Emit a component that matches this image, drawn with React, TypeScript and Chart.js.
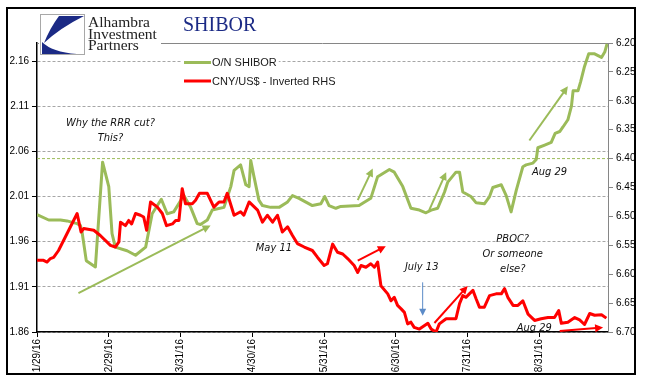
import React, { useEffect, useRef } from 'react';
import { Chart, registerables } from 'chart.js';

Chart.register(...registerables);

// ---------- data ----------
const xTickLabels = ['1/29/16', '2/29/16', '3/31/16', '4/30/16', '5/31/16', '6/30/16', '7/31/16', '8/31/16'];
const xTickStep = 22; // trading days between date labels
const xMax = 175;

const leftTicks = [1.86, 1.91, 1.96, 2.01, 2.06, 2.11, 2.16];
const leftMin = 1.86;
const leftMax = 2.18;

const rightTicks = [6.2, 6.25, 6.3, 6.35, 6.4, 6.45, 6.5, 6.55, 6.6, 6.65, 6.7];
const rightMin = 6.2;
const rightMax = 6.7;
const thresholdLevel = 6.4;

const shiborDay = [
  0, 3.6, 7.2, 9.2, 12.3, 13.3, 13.8, 15.1, 17.9, 20.1, 22.0, 23.0, 24.0, 27.6, 30.2, 33.3, 35.3, 38.1, 39.9, 41.9,
  45.0, 47.1, 49.1, 50.1, 52.2, 53.7, 57.3, 59.4, 60.4, 62.4, 64.0, 65.0, 65.5, 66.5, 68.0, 69.1, 71.6, 74.2, 76.8, 78.3,
  80.3, 84.4, 87.0, 88.2, 89.5, 91.6, 93.1, 98.7, 102.3, 104.4, 108.0, 109.5, 112.1, 114.6, 117.2, 119.2, 120.8, 122.8, 124.9, 125.9,
  128.4, 129.5, 130.5, 133.0, 134.6, 137.1, 138.7, 139.7, 142.3, 143.8, 145.3, 146.9, 148.9, 149.9, 152.0, 153.0, 153.5, 155.6, 157.6, 158.8,
  160.2, 161.2, 162.7, 163.8, 164.3, 165.8, 166.6, 167.8, 169.1, 170.9, 173.0, 174.0, 174.7,
];
const shiborValue = [
  1.990, 1.984, 1.984, 1.983, 1.980, 1.978, 1.971, 1.939, 1.932, 2.048, 2.021, 1.969, 1.954, 1.950, 1.945, 1.954, 1.991, 2.007, 1.991, 1.993,
  2.011, 1.998, 1.980, 1.979, 1.984, 1.995, 1.998, 2.021, 2.039, 2.045, 2.023, 2.021, 2.050, 2.032, 2.006, 2.000, 1.998, 1.998, 2.004, 2.011,
  2.008, 2.000, 2.002, 2.010, 2.000, 1.997, 1.999, 2.000, 2.008, 2.032, 2.040, 2.037, 2.021, 1.997, 1.995, 1.992, 1.995, 1.997, 2.015, 2.026,
  2.037, 2.037, 2.015, 2.010, 2.003, 2.002, 2.010, 2.020, 2.023, 2.011, 1.993, 2.017, 2.043, 2.045, 2.047, 2.051, 2.064, 2.067, 2.070, 2.080,
  2.082, 2.087, 2.095, 2.110, 2.127, 2.127, 2.137, 2.154, 2.168, 2.168, 2.164, 2.170, 2.179,
];

const cnyDay = [
  0, 2.0, 3.1, 4.1, 5.1, 6.6, 12.3, 13.5, 14.3, 17.4, 19.4, 22.5, 24.0, 25.1, 25.6, 27.1, 28.1, 29.0, 30.2, 31.7,
  32.7, 33.6, 34.8, 36.9, 38.4, 39.7, 41.5, 42.5, 43.5, 44.5, 45.5, 47.6, 48.6, 49.8, 52.2, 54.2, 55.8, 57.3, 58.3, 60.4,
  62.4, 63.4, 65.0, 67.6, 69.1, 70.6, 72.2, 73.7, 75.2, 76.8, 78.3, 79.8, 81.9, 84.4, 86.0, 88.0, 89.0, 90.6, 92.1, 93.7,
  95.2, 97.2, 98.3, 99.3, 100.8, 102.3, 103.4, 104.4, 105.4, 107.5, 108.5, 109.5, 110.5, 111.6, 112.6, 113.6, 114.6, 115.6, 117.2, 119.8,
  120.8, 122.3, 123.3, 125.4, 128.4, 129.5, 130.5, 131.5, 132.5, 133.6, 134.6, 135.6, 137.1, 138.7, 140.7, 142.3, 143.3, 144.3, 145.9, 147.4,
  148.9, 150.5, 152.5, 154.5, 156.6, 158.6, 159.9, 160.7, 162.7, 164.8, 166.3, 167.8, 169.4, 170.9, 173.0, 174.5,
];
const cnyValue = [
  6.576, 6.576, 6.579, 6.573, 6.571, 6.559, 6.495, 6.527, 6.521, 6.524, 6.533, 6.550, 6.553, 6.544, 6.510, 6.516, 6.507, 6.513, 6.495, 6.498,
  6.501, 6.524, 6.475, 6.484, 6.495, 6.516, 6.513, 6.507, 6.507, 6.452, 6.478, 6.478, 6.472, 6.460, 6.460, 6.484, 6.475, 6.475, 6.460, 6.498,
  6.492, 6.498, 6.475, 6.489, 6.510, 6.498, 6.510, 6.498, 6.527, 6.518, 6.533, 6.547, 6.553, 6.559, 6.571, 6.585, 6.582, 6.548, 6.562, 6.565,
  6.573, 6.585, 6.597, 6.585, 6.588, 6.582, 6.588, 6.579, 6.620, 6.634, 6.646, 6.640, 6.654, 6.660, 6.666, 6.686, 6.683, 6.692, 6.695, 6.685,
  6.695, 6.700, 6.686, 6.677, 6.677, 6.651, 6.637, 6.640, 6.634, 6.628, 6.643, 6.657, 6.657, 6.637, 6.634, 6.634, 6.625, 6.640, 6.654, 6.654,
  6.646, 6.669, 6.680, 6.677, 6.675, 6.675, 6.663, 6.685, 6.683, 6.675, 6.679, 6.687, 6.668, 6.671, 6.670, 6.676,
];

// annotations (in data space: trading-day index, left-axis value)
const noteTexts = ['Why the RRR cut?', 'This?', 'May 11', 'July 13', 'PBOC?', 'Or someone', 'else?', 'Aug 29', 'Aug 29'];
const noteDay = [22.5, 22.5, 72.6, 117.9, 145.8, 145.8, 145.8, 157.1, 152.4];
const noteValue = [2.091, 2.075, 1.953, 1.932, 1.963, 1.946, 1.930, 2.037, 1.864];

const arrowFrom = [[12.7, 1.903], [98.3, 2.006], [120.2, 1.995], [150.9, 2.072], [98.3, 1.939], [121.8, 1.870], [160.2, 1.861], [118.2, 1.915]];
const arrowTo = [[53.2, 1.978], [102.9, 2.041], [125.4, 2.037], [162.7, 2.132], [106.9, 1.955], [132.0, 1.911], [173.5, 1.865], [118.2, 1.878]];
const arrowKind = ['green', 'green', 'green', 'green', 'red', 'red', 'red', 'blue'];

const GREEN = '#9BBB59';
const RED = '#FF0000';
const BLUE = '#5B8BC8';
const NAVY = '#1B2A85';

const tickFont = { family: "'Liberation Sans', Arial, sans-serif", size: 10 };

function drawArrow(ctx: CanvasRenderingContext2D, x1: number, y1: number, x2: number, y2: number, color: string, w: number) {
  const ang = Math.atan2(y2 - y1, x2 - x1);
  const hl = w >= 2 ? 8 : 7;
  const hw = w >= 2 ? 4 : 3.5;
  ctx.save();
  ctx.strokeStyle = color;
  ctx.fillStyle = color;
  ctx.lineWidth = w;
  ctx.lineCap = 'butt';
  ctx.beginPath();
  ctx.moveTo(x1, y1);
  ctx.lineTo(x2 - Math.cos(ang) * (hl - 1), y2 - Math.sin(ang) * (hl - 1));
  ctx.stroke();
  ctx.beginPath();
  ctx.moveTo(x2, y2);
  ctx.lineTo(x2 - Math.cos(ang) * hl + Math.sin(ang) * hw, y2 - Math.sin(ang) * hl - Math.cos(ang) * hw);
  ctx.lineTo(x2 - Math.cos(ang) * hl - Math.sin(ang) * hw, y2 - Math.sin(ang) * hl + Math.cos(ang) * hw);
  ctx.closePath();
  ctx.fill();
  ctx.restore();
}

const decor = {
  id: 'decor',
  beforeDatasetsDraw(chart: any) {
    const { ctx, chartArea } = chart;
    ctx.save();
    ctx.strokeStyle = '#868686';
    ctx.lineWidth = 1;
    ctx.beginPath();
    ctx.moveTo(chartArea.left, Math.round(chartArea.top) + 0.5);
    ctx.lineTo(chartArea.right, Math.round(chartArea.top) + 0.5);
    ctx.stroke();
    ctx.restore();
  },
  afterDraw(chart: any) {
    const { ctx } = chart;
    const xs = chart.scales.x;
    const ys = chart.scales.y;
    ctx.save();

    // arrows
    arrowFrom.forEach((f, i) => {
      const t = arrowTo[i];
      const kind = arrowKind[i];
      const color = kind === 'green' ? GREEN : kind === 'red' ? RED : BLUE;
      drawArrow(
        ctx,
        xs.getPixelForValue(f[0]), ys.getPixelForValue(f[1]),
        xs.getPixelForValue(t[0]), ys.getPixelForValue(t[1]),
        color, kind === 'blue' ? 1 : 2,
      );
    });

    // notes
    ctx.fillStyle = '#111';
    ctx.font = "italic 11px 'DejaVu Sans Condensed', 'DejaVu Sans', sans-serif";
    ctx.textAlign = 'center';
    ctx.textBaseline = 'middle';
    noteTexts.forEach((t, i) => {
      ctx.fillText(t, xs.getPixelForValue(noteDay[i]), ys.getPixelForValue(noteValue[i]));
    });

    // logo block (white background)
    ctx.fillStyle = '#fff';
    ctx.fillRect(39, 12, 122, 44);
    ctx.strokeStyle = '#A8A8A8';
    ctx.lineWidth = 1;
    ctx.strokeRect(40.5, 14.5, 44, 40);
    ctx.fillStyle = NAVY;
    ctx.beginPath();
    ctx.moveTo(59, 16);
    ctx.lineTo(84, 16);
    ctx.quadraticCurveTo(60, 28, 44, 43);
    ctx.quadraticCurveTo(50, 28, 59, 16);
    ctx.closePath();
    ctx.fill();
    ctx.beginPath();
    ctx.moveTo(42, 42);
    ctx.quadraticCurveTo(52, 52, 77, 54);
    ctx.lineTo(42, 54);
    ctx.closePath();
    ctx.fill();
    ctx.fillStyle = '#222';
    ctx.font = "15.5px 'Liberation Serif', 'Times New Roman', serif";
    ctx.textAlign = 'left';
    ctx.textBaseline = 'alphabetic';
    ctx.fillText('Alhambra', 88, 27);
    ctx.fillText('Investment', 88, 38.5);
    ctx.fillText('Partners', 88, 50);

    // title
    ctx.fillStyle = NAVY;
    ctx.font = "20px 'Liberation Serif', 'Times New Roman', serif";
    ctx.fillText('SHIBOR', 183, 31);

    // legend
    const legendItems = [
      { label: 'O/N SHIBOR', color: GREEN, y: 62.5 },
      { label: 'CNY/US$ - Inverted RHS', color: RED, y: 81 },
    ];
    ctx.font = "11px 'Liberation Sans', Arial, sans-serif";
    legendItems.forEach((it) => {
      const w = ctx.measureText(it.label).width;
      ctx.fillStyle = '#fff';
      ctx.fillRect(182, it.y - 7, 32 + w, 14);
      ctx.strokeStyle = it.color;
      ctx.lineWidth = 3;
      ctx.beginPath();
      ctx.moveTo(184, it.y);
      ctx.lineTo(211, it.y);
      ctx.stroke();
      ctx.fillStyle = '#1a1a1a';
      ctx.textBaseline = 'middle';
      ctx.fillText(it.label, 212, it.y + 0.5);
    });

    // outer frame
    ctx.strokeStyle = '#000';
    ctx.lineWidth = 2;
    ctx.strokeRect(7, 8, 628, 366);
    ctx.restore();
  },
};

export default function App() {
  const ref = useRef<HTMLCanvasElement>(null);

  useEffect(() => {
    const canvas = ref.current;
    if (!canvas) return;
    const chart = new Chart(canvas, {
      type: 'line',
      data: {
        datasets: [
          {
            label: 'CNY/US$ - Inverted RHS',
            data: cnyDay.map((d, i) => ({ x: d, y: cnyValue[i] })),
            yAxisID: 'y2',
            borderColor: RED,
            borderWidth: 3,
            pointRadius: 0,
            tension: 0,
            borderJoinStyle: 'round',
            order: 0,
          },
          {
            label: 'O/N SHIBOR',
            data: shiborDay.map((d, i) => ({ x: d, y: shiborValue[i] })),
            yAxisID: 'y',
            borderColor: GREEN,
            borderWidth: 3,
            pointRadius: 0,
            tension: 0,
            borderJoinStyle: 'round',
            order: 1,
          },
          {
            label: 'level',
            data: [{ x: 0, y: thresholdLevel }, { x: xMax, y: thresholdLevel }],
            yAxisID: 'y2',
            borderColor: GREEN,
            borderWidth: 1,
            borderDash: [3, 2],
            pointRadius: 0,
            order: 2,
          },
        ],
      } as any,
      options: {
        animation: false,
        responsive: false,
        devicePixelRatio: 1,
        events: [],
        layout: { padding: { left: 8, right: 0, top: 43, bottom: 0 } },
        plugins: { legend: { display: false }, tooltip: { enabled: false }, title: { display: false } },
        scales: {
          x: {
            type: 'linear',
            position: 'bottom',
            min: 0,
            max: xMax,
            afterBuildTicks: (s: any) => {
              s.ticks = xTickLabels.map((_, i) => ({ value: i * xTickStep }));
            },
            afterFit: (s: any) => {
              s.height = 53;
            },
            ticks: {
              autoSkip: false,
              minRotation: 90,
              maxRotation: 90,
              padding: 2,
              color: '#000',
              font: tickFont,
              callback: (v: any) => xTickLabels[Math.round(Number(v) / xTickStep)] ?? '',
            },
            grid: { drawOnChartArea: false, drawTicks: true, tickLength: 5, tickColor: '#000', tickWidth: 1 },
            border: { display: true, color: '#000', width: 1.5 },
          },
          y: {
            type: 'linear',
            position: 'left',
            min: leftMin,
            max: leftMax,
            afterBuildTicks: (s: any) => {
              s.ticks = leftTicks.map((v) => ({ value: v }));
            },
            afterFit: (s: any) => {
              s.width = 29;
            },
            ticks: { padding: 3, color: '#000', font: tickFont, callback: (v: any) => Number(v).toFixed(2) },
            grid: { color: '#A6A6A6', lineWidth: 1, drawTicks: true, tickLength: 5, tickColor: '#000', tickBorderDash: [] },
            border: { display: true, color: '#000', width: 1.5, dash: [3, 2] },
          },
          y2: {
            type: 'linear',
            position: 'right',
            reverse: true,
            min: rightMin,
            max: rightMax,
            afterBuildTicks: (s: any) => {
              s.ticks = rightTicks.map((v) => ({ value: v }));
            },
            afterFit: (s: any) => {
              s.width = 37;
            },
            ticks: { padding: 3, color: '#000', font: tickFont, callback: (v: any) => Number(v).toFixed(2) },
            grid: { drawOnChartArea: false, drawTicks: true, tickLength: 5, tickColor: '#868686' },
            border: { display: true, color: '#868686', width: 1 },
          },
        },
      } as any,
      plugins: [decor],
    });
    return () => chart.destroy();
  }, []);

  return (
    <div style={{ position: 'fixed', left: 0, top: 0, width: 645, height: 385, background: '#fff' }}>
      <canvas ref={ref} width={645} height={385} style={{ display: 'block', width: 645, height: 385 }} />
    </div>
  );
}
